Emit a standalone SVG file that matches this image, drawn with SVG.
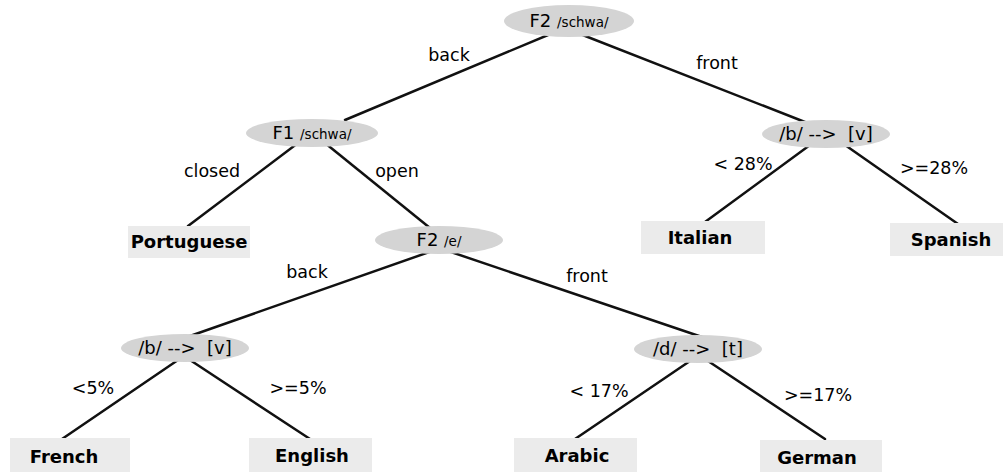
<svg xmlns="http://www.w3.org/2000/svg" width="1003" height="472" viewBox="0 0 1003 472">
<style>
.e{fill:#d4d4d4}
.b{fill:#ebebeb}
.c line{stroke:#111;stroke-width:2.5;stroke-linecap:round}
.t{font-family:"DejaVu Sans",sans-serif;font-size:18px;fill:#000;text-anchor:middle;white-space:pre}
.s{font-size:13.5px}
.bt{font-family:"DejaVu Sans",sans-serif;font-size:18px;font-weight:bold;fill:#000;text-anchor:middle}
.l{font-family:"DejaVu Sans",sans-serif;font-size:17.5px;fill:#000;text-anchor:middle}
</style>
<rect width="1003" height="472" fill="#fff"/>
<g id="connectors" class="c">
<line x1="560" y1="30" x2="345" y2="120"/>
<line x1="575" y1="32" x2="810" y2="124"/>
<line x1="298" y1="143" x2="188" y2="226"/>
<line x1="325" y1="143" x2="430" y2="228"/>
<line x1="810" y1="145" x2="705" y2="222"/>
<line x1="845" y1="145" x2="958" y2="224"/>
<line x1="435" y1="250" x2="190" y2="336"/>
<line x1="445" y1="250" x2="702" y2="337"/>
<line x1="178" y1="360" x2="62" y2="439"/>
<line x1="190" y1="360" x2="310" y2="439"/>
<line x1="690" y1="361" x2="575" y2="439"/>
<line x1="708" y1="361" x2="825" y2="439"/>
<text class="l" x="449" y="61">back</text>
<text class="l" x="717" y="69">front</text>
<text class="l" x="212" y="177">closed</text>
<text class="l" x="397" y="177">open</text>
<text class="l" x="743" y="170">&lt; 28%</text>
<text class="l" x="934" y="174">&gt;=28%</text>
<text class="l" x="307" y="278">back</text>
<text class="l" x="587" y="282">front</text>
<text class="l" x="93" y="394">&lt;5%</text>
<text class="l" x="298" y="394">&gt;=5%</text>
<text class="l" x="599" y="397">&lt; 17%</text>
<text class="l" x="818" y="401">&gt;=17%</text>
</g>
<g id="n_root"><ellipse class="e" cx="569" cy="21" rx="65" ry="16"/><text class="t" x="569" y="27">F2 <tspan class="s">/schwa/</tspan></text></g>
<g id="n_f1"><ellipse class="e" cx="312" cy="133" rx="66" ry="14"/><text class="t" x="312" y="139">F1 <tspan class="s">/schwa/</tspan></text></g>
<g id="n_bv_right"><ellipse class="e" cx="826" cy="134" rx="64" ry="14"/><text class="t" x="826" y="140">/b/ --&gt;  [v]</text></g>
<g id="n_portuguese"><rect class="b" x="128" y="226" width="122" height="32"/><text class="bt" x="189" y="248">Portuguese</text></g>
<g id="n_f2e"><ellipse class="e" cx="439" cy="240" rx="64" ry="14"/><text class="t" x="439" y="246">F2 <tspan class="s">/e/</tspan></text></g>
<g id="n_italian"><rect class="b" x="641" y="221" width="124" height="33"/><text class="bt" x="700" y="244">Italian</text></g>
<g id="n_spanish"><rect class="b" x="890" y="223" width="113" height="33"/><text class="bt" x="951" y="246">Spanish</text></g>
<g id="n_bv_left"><ellipse class="e" cx="185" cy="348" rx="64" ry="14"/><text class="t" x="185" y="354">/b/ --&gt;  [v]</text></g>
<g id="n_dt"><ellipse class="e" cx="698" cy="349" rx="64" ry="14"/><text class="t" x="698" y="355">/d/ --&gt;  [t]</text></g>
<g id="n_french"><rect class="b" x="10" y="438" width="120" height="34"/><text class="bt" x="64" y="463">French</text></g>
<g id="n_english"><rect class="b" x="249" y="438" width="123" height="34"/><text class="bt" x="312" y="462">English</text></g>
<g id="n_arabic"><rect class="b" x="514" y="438" width="123" height="34"/><text class="bt" x="577" y="462">Arabic</text></g>
<g id="n_german"><rect class="b" x="760" y="440" width="122" height="32"/><text class="bt" x="817" y="464">German</text></g>
</svg>
